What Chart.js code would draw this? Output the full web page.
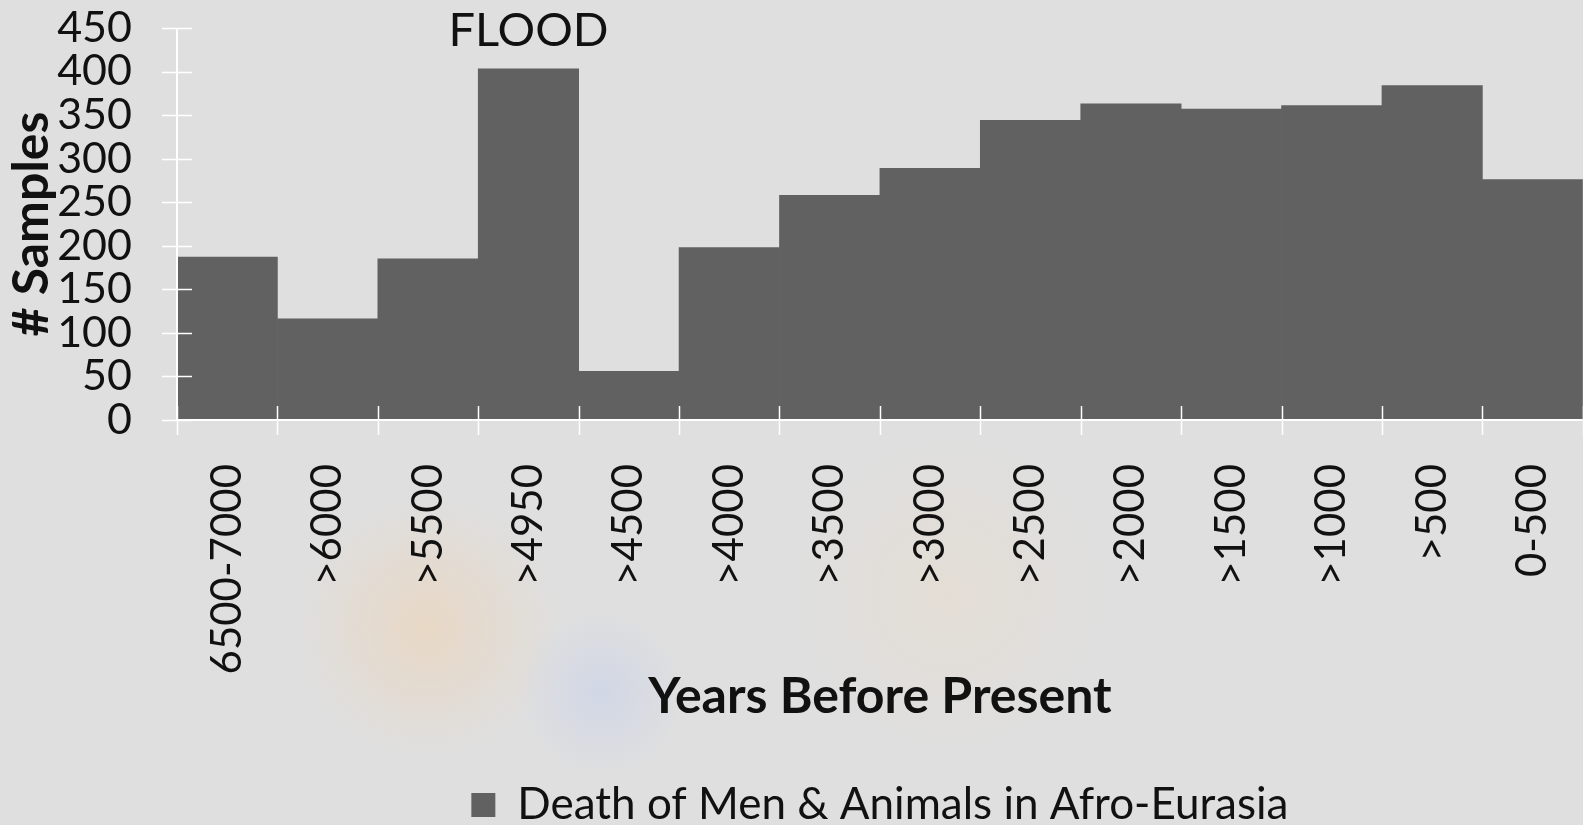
<!DOCTYPE html>
<html>
<head>
<meta charset="utf-8">
<title>Years Before Present</title>
<script src="https://cdn.jsdelivr.net/npm/chart.js@4/dist/chart.umd.min.js"></script>
<style>
html, body { margin: 0; padding: 0; }
body {
    width: 1583px; height: 825px; overflow: hidden;
    background:
        radial-gradient(circle at 27% 76%, rgba(255, 196, 130, 0.28), rgba(255, 196, 130, 0) 10%),
        radial-gradient(circle at 38% 84%, rgba(160, 185, 255, 0.22), rgba(160, 185, 255, 0) 7%),
        radial-gradient(circle at 60% 72%, rgba(255, 210, 150, 0.14), rgba(255, 210, 150, 0) 14%),
        #dfdfdf;
}
canvas { display: block; }
</style>
</head>
<body>
<canvas id="chart" width="1583" height="825"></canvas>
<script>
"use strict";

const CATEGORIES = ["6500-7000", ">6000", ">5500", ">4950", ">4500", ">4000", ">3500",
                    ">3000", ">2500", ">2000", ">1500", ">1000", ">500", "0-500"];
const SAMPLES = [187, 116, 185, 403, 56, 198, 258, 289, 344, 363, 357, 361, 384, 276];
const SERIES_LABEL = "Death of Men & Animals in Afro-Eurasia";
const Y_MAX = 450;
const Y_STEP = 50;

// text notes placed over a category, at a value height
const NOTE_TEXT = ["FLOOD"];
const NOTE_AT = [">4950"];
const NOTE_VALUE = [450];

const BAR = "#616161";
const INK = "#111111";
const AXIS = "#ffffff";
const FONT = "Lato, 'Open Sans', 'DejaVu Sans', sans-serif";

Chart.defaults.font.family = FONT;
Chart.defaults.color = INK;

// axis lines and tick marks that cross the axes, drawn over the bars
const crossTicks = {
    id: "crossTicks",
    afterDatasetsDraw(chart) {
        const { ctx, chartArea: a, scales: { x, y } } = chart;
        ctx.save();
        ctx.strokeStyle = AXIS;
        ctx.lineWidth = 2;
        ctx.beginPath();
        ctx.moveTo(a.left, a.top);
        ctx.lineTo(a.left, a.bottom);
        ctx.lineTo(a.right, a.bottom);
        ctx.stroke();

        ctx.lineWidth = 1.5;
        ctx.beginPath();
        for (let v = 0; v <= Y_MAX; v += Y_STEP) {
            const py = Math.round(y.getPixelForValue(v)) + 0.5;
            ctx.moveTo(a.left - 15, py);
            ctx.lineTo(a.left + 15, py);
        }
        const half = (x.getPixelForValue(1) - x.getPixelForValue(0)) / 2;
        for (let i = 0; i <= CATEGORIES.length; i++) {
            const px = Math.round(x.getPixelForValue(i) - half) + 0.5;
            ctx.moveTo(px, a.bottom - 14);
            ctx.lineTo(px, a.bottom + 15);
        }
        ctx.stroke();
        ctx.restore();
    }
};

const notes = {
    id: "notes",
    afterDatasetsDraw(chart) {
        const { ctx, scales: { x, y } } = chart;
        ctx.save();
        ctx.font = "47px " + FONT;
        ctx.fillStyle = INK;
        ctx.textAlign = "center";
        ctx.textBaseline = "middle";
        NOTE_TEXT.forEach((t, i) => {
            const px = x.getPixelForValue(CATEGORIES.indexOf(NOTE_AT[i]));
            const py = y.getPixelForValue(NOTE_VALUE[i]);
            ctx.fillText(t, px, py + 3);
        });
        ctx.restore();
    }
};

// centre the legend under the plot area rather than the whole canvas
const legendUnderPlot = {
    id: "legendUnderPlot",
    afterLayout(chart) {
        const lg = chart.legend;
        if (!lg) return;
        lg.left = chart.chartArea.left;
        lg.right = chart.chartArea.right;
        lg.width = lg.right - lg.left;
    }
};

new Chart(document.getElementById("chart"), {
    type: "bar",
    data: {
        labels: CATEGORIES,
        datasets: [{
            label: SERIES_LABEL,
            data: SAMPLES,
            backgroundColor: BAR,
            borderWidth: 0,
            barPercentage: 1,
            categoryPercentage: 1
        }]
    },
    options: {
        responsive: false,
        animation: false,
        layout: { padding: { top: 28, right: 0, bottom: -12, left: 0 } },
        plugins: {
            legend: {
                position: "bottom",
                labels: {
                    boxWidth: 24, boxHeight: 24, padding: 10,
                    color: INK,
                    font: { size: 44 }
                }
            },
            tooltip: { enabled: false }
        },
        scales: {
            x: {
                border: { display: false },
                grid: { color: "rgba(0,0,0,0)", drawOnChartArea: false, tickLength: 44 },
                ticks: {
                    autoSkip: false, minRotation: 90, maxRotation: 90,
                    padding: 0, color: INK, font: { size: 42 }
                },
                title: {
                    display: true, text: "Years Before Present", color: INK,
                    font: { size: 50, weight: "bold" },
                    padding: { top: 0, bottom: 46 }
                },
                afterFit(s) { s.height = 353; }
            },
            y: {
                min: 0, max: Y_MAX,
                border: { display: false },
                grid: { color: "rgba(0,0,0,0)", drawOnChartArea: false, tickLength: 45 },
                ticks: { stepSize: Y_STEP, autoSkip: false, padding: 0, color: INK, font: { size: 43 } },
                title: {
                    display: true, text: "# Samples", color: INK,
                    font: { size: 50, weight: "bold" },
                    padding: { top: 2, bottom: 0 }
                },
                afterFit(s) { s.width = 177; }
            }
        }
    },
    plugins: [crossTicks, notes, legendUnderPlot]
});
</script>
</body>
</html>
